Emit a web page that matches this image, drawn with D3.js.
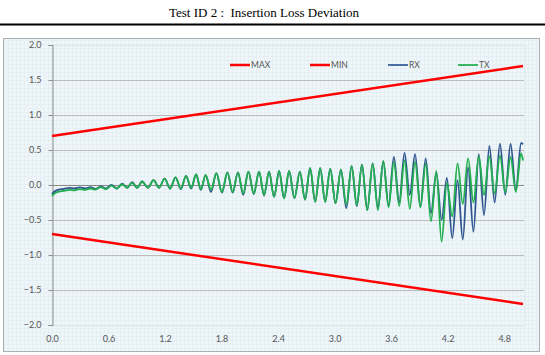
<!DOCTYPE html>
<html><head><meta charset="utf-8">
<script src="https://cdn.jsdelivr.net/npm/d3@7"></script>
<style>body{margin:0;background:#fff;}svg{display:block;}</style>
</head><body>
<script>
// ---- data ----
const title = "Test ID 2 :  Insertion Loss Deviation";
const seriesNames = ["MAX", "MIN", "RX", "TX"];
const xTicks = [0.0, 0.6, 1.2, 1.8, 2.4, 3.0, 3.6, 4.2, 4.8];
const yTicks = [-2.0, -1.5, -1.0, -0.5, 0.0, 0.5, 1.0, 1.5, 2.0];
const limitFreq = [0.0, 5.0];
const maxLimit = [0.7, 1.7];
const minLimit = [-0.7, -1.7];
const freq = [0.000,0.030,0.072,0.128,0.184,0.240,0.296,0.352,0.407,0.463,0.519,0.575,0.631,0.688,0.745,0.798,0.851,0.904,0.957,1.018,
1.078,1.137,1.195,1.254,1.312,1.368,1.423,1.477,1.530,1.580,1.631,1.688,1.745,1.804,1.862,1.918,1.974,2.030,2.085,2.142,
2.198,2.251,2.304,2.358,2.411,2.464,2.517,2.574,2.631,2.686,2.740,2.794,2.847,2.900,2.954,3.010,3.067,3.124,3.181,3.236,
3.290,3.347,3.404,3.460,3.517,3.573,3.629,3.686,3.742,3.798,3.854,3.911,3.967,4.023,4.080,4.136,4.192,4.249,4.305,4.361,
4.417,4.474,4.530,4.586,4.643,4.699,4.755,4.812,4.868,4.924,4.980,5.000];
const rx = [-0.13,-0.09,-0.065,-0.055,-0.04,-0.05,-0.035,-0.05,-0.03,-0.055,-0.02,-0.05,0.0,-0.05,0.02,-0.04,0.04,-0.04,0.05,-0.04,
0.07,-0.04,0.09,-0.05,0.11,-0.06,0.13,-0.05,0.15,-0.07,0.14,-0.10,0.17,-0.11,0.18,-0.11,0.18,-0.14,0.19,-0.13,
0.19,-0.15,0.19,-0.17,0.20,-0.19,0.20,-0.19,0.19,-0.21,0.24,-0.24,0.24,-0.24,0.23,-0.26,0.22,-0.33,0.27,-0.30,
0.29,-0.36,0.31,-0.33,0.34,-0.30,0.40,-0.25,0.46,-0.14,0.44,-0.31,0.38,-0.40,0.17,-0.50,0.10,-0.76,0.07,-0.78,
0.25,-0.67,0.44,-0.43,0.56,-0.25,0.59,-0.14,0.59,-0.08,0.60,0.58];
const tx = [-0.16,-0.12,-0.095,-0.085,-0.07,-0.075,-0.06,-0.07,-0.05,-0.065,-0.03,-0.06,-0.01,-0.05,0.01,-0.04,0.03,-0.04,0.05,-0.04,
0.07,-0.04,0.09,-0.05,0.11,-0.05,0.13,-0.04,0.15,-0.06,0.14,-0.07,0.17,-0.10,0.18,-0.10,0.18,-0.12,0.19,-0.12,
0.19,-0.14,0.19,-0.17,0.20,-0.19,0.20,-0.19,0.19,-0.21,0.24,-0.24,0.24,-0.24,0.23,-0.26,0.22,-0.28,0.27,-0.29,
0.29,-0.36,0.31,-0.36,0.34,-0.32,0.33,-0.30,0.35,-0.34,0.33,-0.32,0.30,-0.52,0.20,-0.81,0.03,-0.45,0.31,-0.27,
0.38,-0.25,0.41,-0.14,0.41,-0.12,0.42,-0.10,0.40,-0.10,0.45,0.35];

// ---- layout ----
const W = 545, H = 355;
const svg = d3.select("body").append("svg").attr("width", W).attr("height", H);

const defs = svg.append("defs");
const pat = defs.append("pattern").attr("id", "grid").attr("width", 4).attr("height", 4)
  .attr("patternUnits", "userSpaceOnUse");
pat.append("rect").attr("width", 4).attr("height", 4).attr("fill", "#eef6f9");
pat.append("path").attr("d", "M0,0.5H4M0.5,0V4").attr("stroke", "#e6f0f4").attr("stroke-width", 1);

svg.append("text").attr("x", 264).attr("y", 17).attr("text-anchor", "middle")
  .attr("font-family", "Liberation Serif, Times New Roman, serif").attr("font-size", 13)
  .attr("fill", "#000").attr("xml:space", "preserve").style("white-space", "pre").text(title);
svg.append("line").attr("x1", 0).attr("x2", W).attr("y1", 24.5).attr("y2", 24.5)
  .attr("stroke", "#000").attr("stroke-width", 2);

svg.append("rect").attr("x", 3.5).attr("y", 38.5).attr("width", 536).attr("height", 313)
  .attr("fill", "url(#grid)").attr("stroke", "#a9b0b3").attr("stroke-width", 1);

const x = d3.scaleLinear().domain([0, 5.0]).range([52, 523]);
const y = d3.scaleLinear().domain([-2, 2]).range([325, 45]);

svg.append("rect").attr("x", 52).attr("y", 45).attr("width", 473).attr("height", 281)
  .attr("fill", "none").attr("stroke", "#dce9ee").attr("stroke-width", 1);

// gridlines
svg.append("g").selectAll("line").data(yTicks.filter(v => v !== 0)).join("line")
  .attr("x1", 52).attr("x2", 524)
  .attr("y1", d => Math.round(y(d)) + 0.5).attr("y2", d => Math.round(y(d)) + 0.5)
  .attr("stroke", d => Math.abs(d) === 2 ? "#dde8ec" : "#bcbcbc").attr("stroke-width", 1);

// y axis
const yAxis = d3.axisLeft(y).tickValues(yTicks).tickFormat(d3.format(".1f")).tickSize(4).tickPadding(7);
const gy = svg.append("g").attr("transform", "translate(52.5,0)").call(yAxis);
gy.select(".domain").attr("stroke", "#8c8c8c");
gy.selectAll(".tick line").attr("stroke", "#8c8c8c");
gy.selectAll("text").attr("font-family", "Lato, Open Sans, sans-serif").attr("font-size", 9).attr("fill", "#555");

// x axis labels
const xAxis = d3.axisBottom(x).tickValues(xTicks).tickFormat(d3.format(".1f")).tickSize(0).tickPadding(10);
const gx = svg.append("g").attr("transform", "translate(0,326)").call(xAxis);
gx.select(".domain").remove();
gx.selectAll("text").attr("font-family", "Lato, Open Sans, sans-serif").attr("font-size", 9).attr("fill", "#555");

// zero line
svg.append("line").attr("x1", 52).attr("x2", 524).attr("y1", y(0) + 0.5).attr("y2", y(0) + 0.5)
  .attr("stroke", "#8a8a8a").attr("stroke-width", 1);

const line = d3.line().x(d => x(d[0])).y(d => y(d[1]));
const smooth = d3.line().x(d => x(d[0])).y(d => y(d[1])).curve(d3.curveMonotoneX);

svg.append("path").datum(limitFreq.map((f, i) => [f, maxLimit[i]])).attr("d", line)
  .attr("fill", "none").attr("stroke", "#ff0000").attr("stroke-width", 2.5);
svg.append("path").datum(limitFreq.map((f, i) => [f, minLimit[i]])).attr("d", line)
  .attr("fill", "none").attr("stroke", "#ff0000").attr("stroke-width", 2.5);
svg.append("path").datum(freq.map((f, i) => [f, rx[i]])).attr("d", smooth)
  .attr("fill", "none").attr("stroke", "#30568f").attr("stroke-width", 1.8);
svg.append("path").datum(freq.map((f, i) => [f, tx[i]])).attr("d", smooth)
  .attr("fill", "none").attr("stroke", "#22b04e").attr("stroke-width", 1.8);

// legend
const legColors = ["#ff0000", "#ff0000", "#4a6fa5", "#3cb865"];
const legX = [230, 310, 388, 458];
const leg = svg.append("g");
seriesNames.forEach((n, i) => {
  leg.append("line").attr("x1", legX[i]).attr("x2", legX[i] + 20).attr("y1", 65).attr("y2", 65)
    .attr("stroke", legColors[i]).attr("stroke-width", i < 2 ? 2.5 : 2);
  leg.append("text").attr("x", legX[i] + 21).attr("y", 68).attr("font-family", "Lato, Open Sans, sans-serif")
    .attr("font-size", 8.5).attr("fill", "#555").text(n);
});
</script>
</body></html>
